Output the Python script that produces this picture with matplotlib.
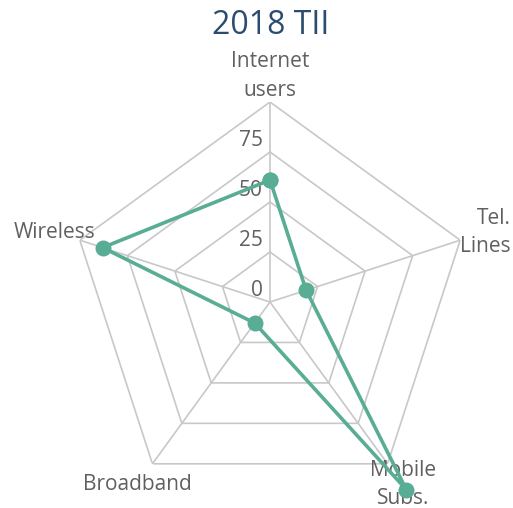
import numpy as np
import matplotlib
matplotlib.use("Agg")
import matplotlib.pyplot as plt
from matplotlib.transforms import offset_copy

categories = ["Internet\nusers", "Tel.\nLines", "Mobile\nSubs.", "Broadband", "Wireless"]
values = [61, 19, 116, 13, 88]
grid_levels = [25, 50, 75, 100]
tick_values = [0, 25, 50, 75]
tick_labels = ["0", "25", "50", "75"]
title = "2018 TII"

W, H = 513, 508
fig = plt.figure(figsize=(W / 100, H / 100), dpi=100)
fig.patch.set_facecolor("white")

cx, cy, R = 270, 302, 200
ax = fig.add_axes([(cx - R) / W, 1 - (cy + R) / H, 2 * R / W, 2 * R / H], projection="polar")
ax.set_theta_offset(np.pi / 2)
ax.set_theta_direction(-1)
ax.set_ylim(0, 100)
ax.grid(False)
ax.spines["polar"].set_visible(False)
ax.set_xticks([])
ax.set_yticks([])
ax.patch.set_visible(False)

n = len(categories)
angles = np.linspace(0, 2 * np.pi, n, endpoint=False)
closed = np.concatenate([angles, angles[:1]])

grid_col = "#c8c8c8"
for lv in grid_levels:
    ax.plot(closed, [lv] * (n + 1), color=grid_col, lw=1.2, zorder=1)
for a in angles:
    ax.plot([a, a], [0, grid_levels[-1]], color=grid_col, lw=1.2, zorder=1)

text_col = "#606060"
fam = ["Open Sans", "DejaVu Sans"]
for a, lab in zip(angles, categories):
    ax.text(a, 113, lab, ha="center", va="center", multialignment="right" if "Tel" in lab else "center",
            fontsize=15, color=text_col, family=fam, linespacing=1.45, clip_on=False)

tr = offset_copy(ax.transData, fig=fig, x=-7, y=11, units="dots")
for v, t in zip(tick_values, tick_labels):
    ax.text(0, v, t, transform=tr, ha="right", va="center", fontsize=15, color=text_col, family=fam)

vals = np.array(values + values[:1], dtype=float)
col = "#58ad94"
ax.plot(closed, vals, color=col, lw=2.6, marker="o", markersize=10.5, clip_on=False, zorder=5)

fig.text(271 / W, 1 - 26 / H, title, ha="center", va="center", fontsize=23, color="#2b4c6f", family=fam)

fig.savefig("out.png", dpi=100, facecolor="white")
